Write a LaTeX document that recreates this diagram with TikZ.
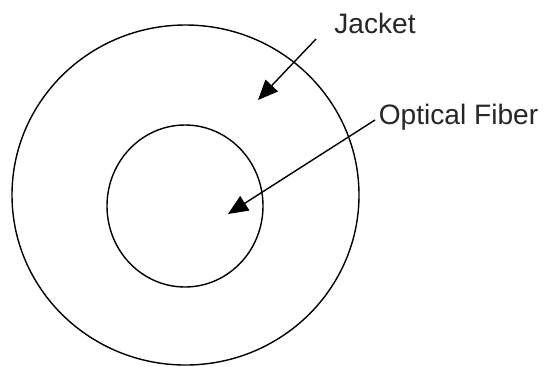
\documentclass[tikz,border=0pt]{standalone}
\usepackage{fontspec}
\setmainfont{Liberation Sans}
\usetikzlibrary{arrows.meta,positioning}

\begin{document}
\begin{tikzpicture}[
  x=0.02cm, y=-0.02cm,
  ring/.style={draw, line width=0.8pt},
  tag/.style={font=\fontsize{16}{18}\selectfont, text=black!85, inner sep=0pt},
  pointer/.style={draw, line width=0.8pt, -{Triangle[length=0.4cm, width=0.34cm]}}
]
\useasboundingbox (0,0) rectangle (547,366);
\draw[ring] (185.5,195) ellipse [x radius=173.5, y radius=170];
\draw[ring] (185,206) ellipse [x radius=78, y radius=81];
\node[tag, anchor=base] (jacket) at (375,33) {Jacket};
\node[tag, anchor=base] (fiber) at (458.5,124) {Optical Fiber};
\coordinate (jstart) at (316,39);
\coordinate (jtip) at (258,100);
\coordinate (fstart) at (375,120);
\coordinate (ftip) at (228,214);
\draw[pointer] (jstart) -- (jtip);
\draw[pointer] (fstart) -- (ftip);
\end{tikzpicture}
\end{document}
